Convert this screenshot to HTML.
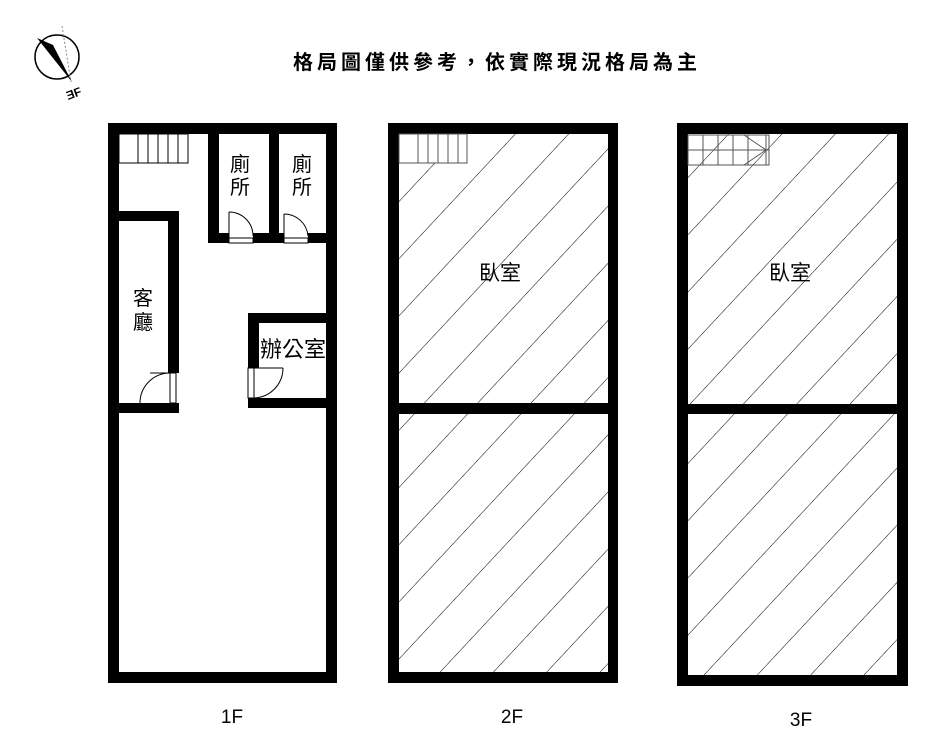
<!DOCTYPE html>
<html><head><meta charset="utf-8"><style>
html,body{margin:0;padding:0;background:#fff;width:927px;height:747px;overflow:hidden}
svg{display:block}
text{font-family:"Liberation Sans","Noto Sans CJK TC",sans-serif;fill:#000}
</style></head><body>
<svg width="927" height="747" viewBox="0 0 927 747" xmlns="http://www.w3.org/2000/svg">
<defs>
<pattern id="h" patternUnits="userSpaceOnUse" width="39" height="39" patternTransform="rotate(-47)">
<line x1="0" y1="0" x2="39" y2="0" stroke="#000" stroke-width="1"/>
</pattern>
</defs>
<!-- compass -->
<circle cx="57" cy="57" r="22" fill="none" stroke="#000" stroke-width="1.5"/>
<line x1="62" y1="26" x2="71" y2="82" stroke="#888" stroke-width="1" stroke-dasharray="2,2"/>
<polygon points="37,38 72,82 53,45" fill="#000"/>
<text x="68" y="100" font-size="12" font-weight="bold" transform="rotate(-20 68 100)">ƎF</text>
<!-- title -->
<text x="497" y="69" font-size="20" font-weight="bold" text-anchor="middle" letter-spacing="4">格局圖僅供參考，依實際現況格局為主</text>

<!-- 1F -->
<g fill="#000">
<rect x="108" y="123" width="229" height="11"/>
<rect x="108" y="123" width="11" height="560"/>
<rect x="326" y="123" width="11" height="560"/>
<rect x="108" y="672" width="229" height="11"/>
<rect x="208" y="123" width="11" height="120"/>
<rect x="269" y="123" width="10" height="120"/>
<rect x="208" y="233" width="21" height="10"/>
<rect x="253" y="233" width="31" height="10"/>
<rect x="308" y="233" width="29" height="10"/>
<rect x="108" y="211" width="71" height="10"/>
<rect x="168" y="211" width="11" height="162"/>
<rect x="108" y="403" width="71" height="10"/>
<rect x="248" y="313" width="89" height="10"/>
<rect x="248" y="313" width="11" height="55"/>
<rect x="248" y="398" width="89" height="10"/>
</g>
<g fill="none" stroke="#000" stroke-width="1">
<rect x="119" y="134" width="69" height="29"/>
<line x1="138" y1="134" x2="138" y2="163"/><line x1="148" y1="134" x2="148" y2="163"/>
<line x1="158" y1="134" x2="158" y2="163"/><line x1="168" y1="134" x2="168" y2="163"/>
<line x1="178" y1="134" x2="178" y2="163"/>
<rect x="229" y="238" width="24" height="5"/><line x1="229" y1="238" x2="229" y2="212"/>
<path d="M229 212 A24 24 0 0 1 253 236"/>
<rect x="284" y="238" width="24" height="5"/><line x1="284" y1="238" x2="284" y2="214"/>
<path d="M284 214 A24 24 0 0 1 308 236"/>
<rect x="170" y="373" width="6" height="30"/><line x1="170" y1="373" x2="150" y2="373"/>
<path d="M170 373 A30 30 0 0 0 140 403"/>
<rect x="248" y="368" width="6" height="30"/><line x1="254" y1="368" x2="283" y2="368"/>
<path d="M283 368 A30 30 0 0 1 254 398"/>
</g>
<text x="143" y="305" font-size="20" text-anchor="middle">客</text>
<text x="143" y="329" font-size="20" text-anchor="middle">廳</text>
<text x="240" y="171" font-size="20" text-anchor="middle">廁</text>
<text x="240" y="194" font-size="20" text-anchor="middle">所</text>
<text x="302" y="171" font-size="20" text-anchor="middle">廁</text>
<text x="302" y="194" font-size="20" text-anchor="middle">所</text>
<text x="293" y="357" font-size="22" text-anchor="middle">辦公室</text>
<text x="232" y="723" font-size="19" text-anchor="middle">1F</text>

<!-- 2F -->
<rect x="399" y="134" width="209" height="538" fill="url(#h)"/>
<g fill="#000">
<rect x="388" y="123" width="230" height="11"/>
<rect x="388" y="123" width="11" height="560"/>
<rect x="608" y="123" width="10" height="560"/>
<rect x="388" y="672" width="230" height="11"/>
<rect x="388" y="403" width="230" height="11"/>
</g>
<g fill="none" stroke="#555" stroke-width="1">
<rect x="399" y="134" width="68" height="29" fill="#fff"/>
<line x1="418" y1="134" x2="418" y2="163"/><line x1="428" y1="134" x2="428" y2="163"/>
<line x1="438" y1="134" x2="438" y2="163"/><line x1="448" y1="134" x2="448" y2="163"/>
<line x1="458" y1="134" x2="458" y2="163"/>
</g>
<text x="500" y="280" font-size="21" text-anchor="middle">臥室</text>
<text x="512" y="723" font-size="19" text-anchor="middle">2F</text>

<!-- 3F -->
<rect x="688" y="134" width="209" height="541" fill="url(#h)"/>
<g fill="#000">
<rect x="677" y="123" width="231" height="11"/>
<rect x="677" y="123" width="11" height="563"/>
<rect x="897" y="123" width="11" height="563"/>
<rect x="677" y="675" width="231" height="11"/>
<rect x="677" y="404" width="231" height="10"/>
</g>
<g fill="none" stroke="#555" stroke-width="1">
<rect x="688" y="135" width="81" height="30"/>
<line x1="688" y1="150" x2="769" y2="150"/>
<line x1="703" y1="135" x2="703" y2="165"/><line x1="718" y1="135" x2="718" y2="165"/>
<line x1="733" y1="135" x2="733" y2="165"/><line x1="748" y1="135" x2="748" y2="165"/>
<line x1="766" y1="135" x2="766" y2="165"/>
<polyline points="744,135 766,150 744,165"/>
</g>
<text x="790" y="280" font-size="21" text-anchor="middle">臥室</text>
<text x="801" y="726" font-size="19" text-anchor="middle">3F</text>
</svg>
</body></html>
